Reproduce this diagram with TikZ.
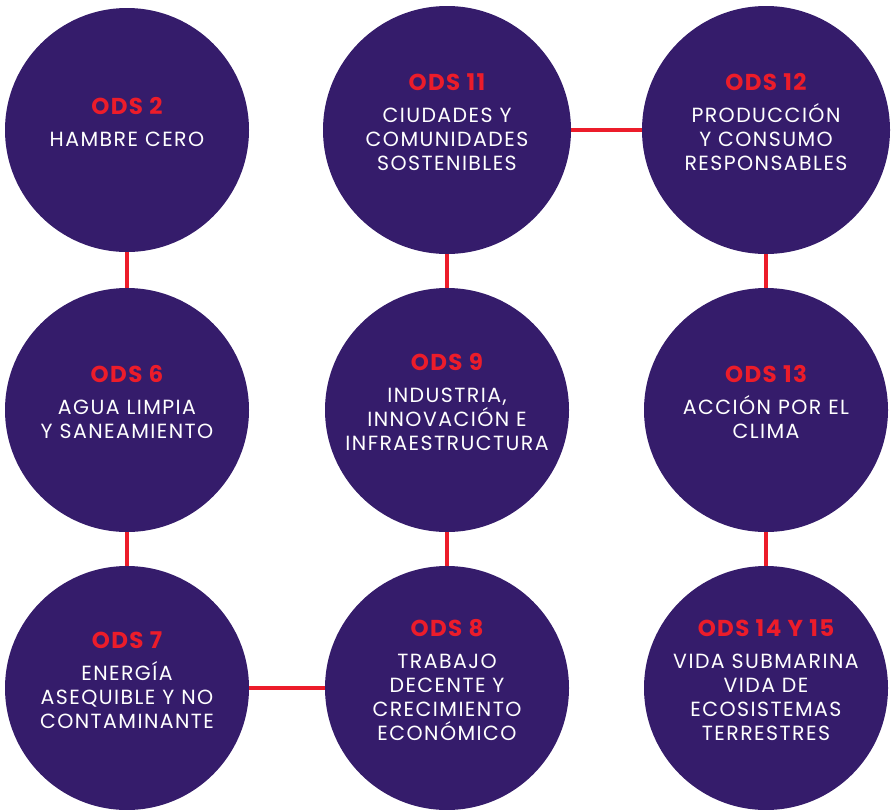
\documentclass[tikz,border=0pt]{standalone}
\usepackage{fontspec}
\setmainfont{Poppins}
\newfontfamily\bodyfont[LetterSpace=7]{Poppins}
\newfontfamily\titlefont[LetterSpace=6]{Poppins}
\definecolor{odspurple}{HTML}{351C6B}
\definecolor{odsred}{HTML}{EC1C2A}
\begin{document}
\begin{tikzpicture}[x=1pt,y=-1pt,
  bubble/.style={circle,fill=odspurple,inner sep=0pt,minimum size=#1},
  bubble/.default=244pt,
  txt/.style={text=white,align=center,inner sep=0pt,font=\bodyfont\fontsize{20.5}{24}\selectfont},
  link/.style={draw=odsred,line width=4.5pt}]
\newcommand{\ttl}[1]{{\color{odsred}\titlefont\fontsize{23}{24}\selectfont\bfseries #1}}
\useasboundingbox (0,0) rectangle (891,809);
% circles
\node[bubble] (c2)  at (127,130) {};
\node[bubble=248pt] (c11) at (447,130) {};
\node[bubble=248pt] (c12) at (766,130) {};
\node[bubble] (c6)  at (127,410) {};
\node[bubble] (c9)  at (447,410) {};
\node[bubble] (c13) at (766,410) {};
\node[bubble] (c7)  at (127,688) {};
\node[bubble] (c8)  at (447,688) {};
\node[bubble] (c14) at (766,688) {};
% connectors
\draw[link] (c2) -- (c6);
\draw[link] (c6) -- (c7);
\draw[link] (c11) -- (c9);
\draw[link] (c9) -- (c8);
\draw[link] (c12) -- (c13);
\draw[link] (c13) -- (c14);
\draw[link] (c11) -- (c12);
\draw[link] (c7) -- (c8);
% texts
\node[txt] (t2)  at ([yshift=8pt]c2.center)  {\ttl{ODS 2}\\[8pt]HAMBRE CERO};
\node[txt] (t11) at ([yshift=8pt]c11.center) {\ttl{ODS 11}\\[8pt]CIUDADES Y\\COMUNIDADES\\SOSTENIBLES};
\node[txt] (t12) at ([yshift=8pt]c12.center) {\ttl{ODS 12}\\[8pt]PRODUCCIÓN\\Y CONSUMO\\RESPONSABLES};
\node[txt] (t6)  at ([yshift=8pt]c6.center)  {\ttl{ODS 6}\\[8pt]AGUA LIMPIA\\Y SANEAMIENTO};
\node[txt] (t9)  at ([yshift=8pt]c9.center)  {\ttl{ODS 9}\\[8pt]INDUSTRIA,\\INNOVACIÓN E\\INFRAESTRUCTURA};
\node[txt] (t13) at ([yshift=8pt]c13.center) {\ttl{ODS 13}\\[8pt]ACCIÓN POR EL\\CLIMA};
\node[txt] (t7)  at ([yshift=8pt]c7.center)  {\ttl{ODS 7}\\[8pt]ENERGÍA\\ASEQUIBLE Y NO\\CONTAMINANTE};
\node[txt] (t8)  at ([yshift=8pt]c8.center)  {\ttl{ODS 8}\\[8pt]TRABAJO\\DECENTE Y\\CRECIMIENTO\\ECONÓMICO};
\node[txt] (t14) at ([yshift=8pt]c14.center) {\ttl{ODS 14 Y 15}\\[8pt]VIDA SUBMARINA\\VIDA DE\\ECOSISTEMAS\\TERRESTRES};
\end{tikzpicture}
\end{document}
